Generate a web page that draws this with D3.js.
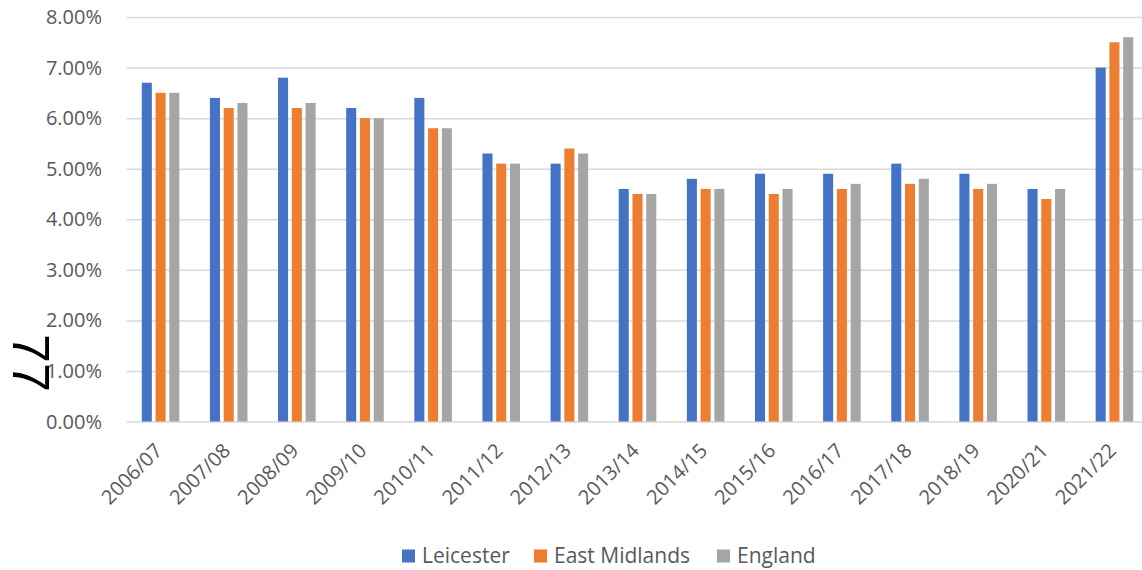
<!DOCTYPE html>
<html>
<head>
<meta charset="utf-8">
<script src="https://cdn.jsdelivr.net/npm/d3@7"></script>
<style>
  body { margin: 0; background: #fff; }
  svg text { font-family: "Open Sans", "Noto Sans", sans-serif; fill: #595959; }
</style>
</head>
<body>
<div id="chart"></div>
<script>
// ... data
const categories = ['2006/07', '2007/08', '2008/09', '2009/10', '2010/11', '2011/12', '2012/13',
    '2013/14', '2014/15', '2015/16', '2016/17', '2017/18', '2018/19', '2020/21', '2021/22'];
const seriesNames = ['Leicester', 'East Midlands', 'England'];
const leicester = [6.7, 6.4, 6.8, 6.2, 6.4, 5.3, 5.1, 4.6, 4.8, 4.9, 4.9, 5.1, 4.9, 4.6, 7.0];
const eastMidlands = [6.5, 6.2, 6.2, 6.0, 5.8, 5.1, 5.4, 4.5, 4.6, 4.5, 4.6, 4.7, 4.6, 4.4, 7.5];
const england = [6.5, 6.3, 6.3, 6.0, 5.8, 5.1, 5.3, 4.5, 4.6, 4.6, 4.7, 4.8, 4.7, 4.6, 7.6];
const yTicks = [0, 1, 2, 3, 4, 5, 6, 7, 8];
const colours = ['#4472C4', '#ED7D31', '#A5A5A5'];

const values = [leicester, eastMidlands, england];

const W = 1142, H = 570;
const plotLeft = 126.5, plotRight = 1148.5, plotTop = 17, plotBottom = 421.5;

const svg = d3.select('#chart').append('svg')
    .attr('width', W)
    .attr('height', H);

const x = d3.scaleBand()
    .domain(categories)
    .range([plotLeft, plotRight])
    .padding(0);

const xs = d3.scaleBand()
    .domain(seriesNames)
    .range([-22.5, 22.5])
    .padding(0.27);

const y = d3.scaleLinear()
    .domain([0, 8])
    .range([plotBottom, plotTop]);

// ... grid
svg.append('g')
    .attr('class', 'grid')
    .attr('transform', 'translate(' + plotLeft + ',0)')
    .call(d3.axisLeft(y).tickValues(yTicks).tickSize(-(plotRight - plotLeft)).tickFormat(''))
    .call(g => g.select('.domain').remove())
    .call(g => g.selectAll('line').attr('stroke', '#d9d9d9').attr('stroke-width', 1.5));

// ... y labels
svg.append('g')
    .selectAll('text')
    .data(yTicks)
    .join('text')
    .attr('x', 102)
    .attr('y', d => y(d))
    .attr('dy', '0.35em')
    .attr('text-anchor', 'end')
    .style('font-size', '20px')
    .text(d => d3.format('.2f')(d) + '%');

// ... bars
const groups = svg.append('g')
    .selectAll('g')
    .data(categories)
    .join('g')
    .attr('transform', d => 'translate(' + (x(d) + x.bandwidth() / 2) + ',0)');

groups.selectAll('rect')
    .data((d, i) => seriesNames.map((s, j) => ({ s: s, j: j, v: values[j][i] })))
    .join('rect')
    .attr('x', d => xs(d.s))
    .attr('width', xs.bandwidth())
    .attr('y', d => y(d.v))
    .attr('height', d => y(0) - y(d.v))
    .attr('fill', d => colours[d.j]);

// ... x labels
svg.append('g')
    .selectAll('text')
    .data(categories)
    .join('text')
    .attr('transform', d => 'translate(' + (x(d) + x.bandwidth() / 2 - 2) + ',447) rotate(-45)')
    .attr('text-anchor', 'end')
    .attr('dy', '0.35em')
    .style('font-size', '20px')
    .text(d => d);

// ... legend
const legendX = [402, 534, 717];
const legend = svg.append('g')
    .selectAll('g')
    .data(seriesNames)
    .join('g')
    .attr('transform', (d, i) => 'translate(' + legendX[i] + ',556)');

legend.append('rect')
    .attr('x', 0)
    .attr('y', -6.5)
    .attr('width', 13)
    .attr('height', 13)
    .attr('fill', (d, i) => colours[i]);

legend.append('text')
    .attr('x', 20)
    .attr('dy', '0.35em')
    .style('font-size', '21px')
    .text(d => d);

// ... stray page number
svg.append('text')
    .attr('transform', 'translate(13,334) rotate(90)')
    .style('font-family', '"Liberation Sans", sans-serif')
    .style('font-size', '52px')
    .style('fill', '#000')
    .text('77');
</script>
</body>
</html>
